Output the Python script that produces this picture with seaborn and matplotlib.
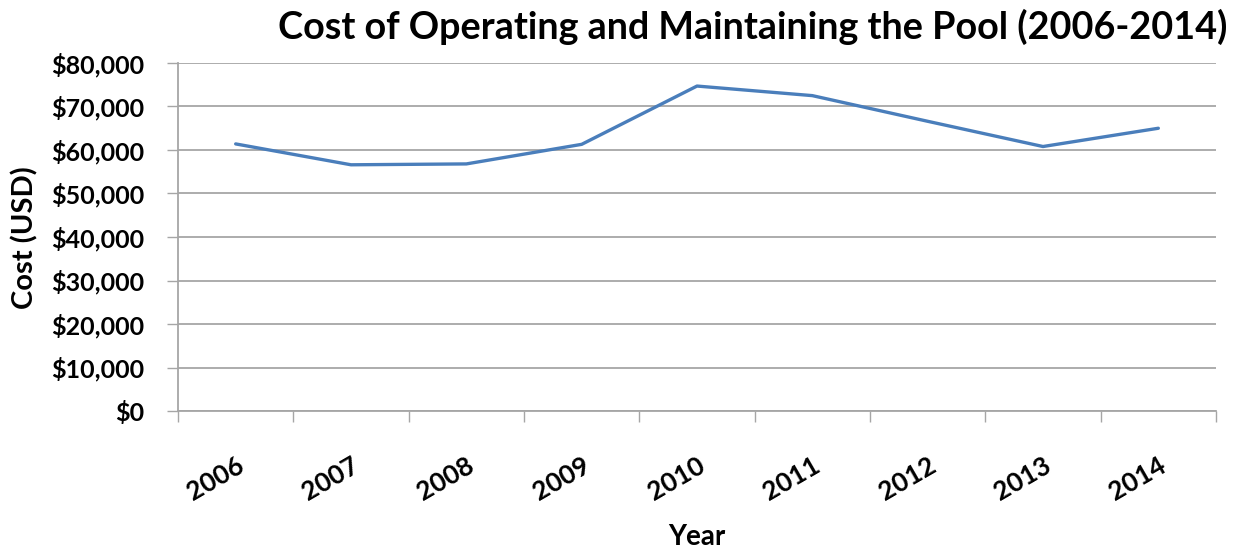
import matplotlib
matplotlib.use("Agg")
import matplotlib.pyplot as plt
import seaborn as sns
import pandas as pd
from matplotlib.ticker import FixedLocator, FuncFormatter, NullFormatter

years = [2006, 2007, 2008, 2009, 2010, 2011, 2012, 2013, 2014]
costs = [61400, 56600, 56800, 61300, 74700, 72500, 66600, 60800, 65000]
y_ticks = [0, 10000, 20000, 30000, 40000, 50000, 60000, 70000, 80000]
title = "Cost of Operating and Maintaining the Pool (2006-2014)"
x_label = "Year"
y_label = "Cost (USD)"

sns.set_theme(style="white")
plt.rcParams['font.family'] = ['Lato', 'DejaVu Sans']
plt.rcParams['text.color'] = 'black'
plt.rcParams['axes.labelcolor'] = 'black'
plt.rcParams['xtick.labelcolor'] = 'black'
plt.rcParams['ytick.labelcolor'] = 'black'

df = pd.DataFrame({"Year": years, "Cost": costs})

fig = plt.figure(figsize=(12.38, 5.52), dpi=100)
ax = fig.add_axes([178/1238, 1 - 411/552, (1216-178)/1238, (411-63)/552])

sns.lineplot(data=df, x="Year", y="Cost", ax=ax, color="#4a7ebb", linewidth=2.4)

ax.set_xlim(years[0] - 0.5, years[-1] + 0.5)
ax.set_ylim(y_ticks[0], y_ticks[-1])

ax.xaxis.set_major_locator(FixedLocator([y - 0.5 for y in years] + [years[-1] + 0.5]))
ax.xaxis.set_major_formatter(NullFormatter())
ax.xaxis.set_minor_locator(FixedLocator(years))
ax.set_xticklabels([str(y) for y in years], minor=True)
ax.tick_params(axis="x", which="major", direction="out", length=8, width=1, color="#a6a6a6", bottom=True)
ax.tick_params(axis="x", which="minor", length=0, pad=30, labelcolor="black")
for lbl in ax.get_xticklabels(minor=True):
    lbl.set_rotation(30)
    lbl.set_ha("right")
    lbl.set_va("top")
    lbl.set_rotation_mode("anchor")
    lbl.set_fontsize(19)
    lbl.set_fontweight("bold")

ax.set_yticks(y_ticks)
ax.yaxis.set_major_formatter(FuncFormatter(lambda v, p: f"${int(v):,}"))
ax.tick_params(axis="y", direction="out", length=8, width=1, color="#a6a6a6", left=True, pad=16, labelcolor="black")
for lbl in ax.get_yticklabels():
    lbl.set_fontsize(18)
    lbl.set_fontweight("bold")

ax.grid(axis="y", color="#a6a6a6", linewidth=1.3)
ax.grid(axis="x", visible=False)
for s in ["top", "right"]:
    ax.spines[s].set_visible(False)
for s in ["left", "bottom"]:
    ax.spines[s].set_color("#a6a6a6")
    ax.spines[s].set_linewidth(1.3)

ax.set_xlabel(x_label, fontsize=20, fontweight="bold", labelpad=0)
ax.xaxis.set_label_coords((697-178)/(1216-178), -(537-411)/(411-63))
ax.set_ylabel(y_label, fontsize=21, fontweight="bold")
ax.yaxis.set_label_coords(-(178-25)/(1216-178), (411-238)/(411-63))
ax.xaxis.label.set_va("center")
ax.yaxis.label.set_va("center")

fig.text(753/1238, 1 - 27/552, title, ha="center", va="center", fontsize=27.2, fontweight="bold")

fig.savefig("out.png", dpi=100)
